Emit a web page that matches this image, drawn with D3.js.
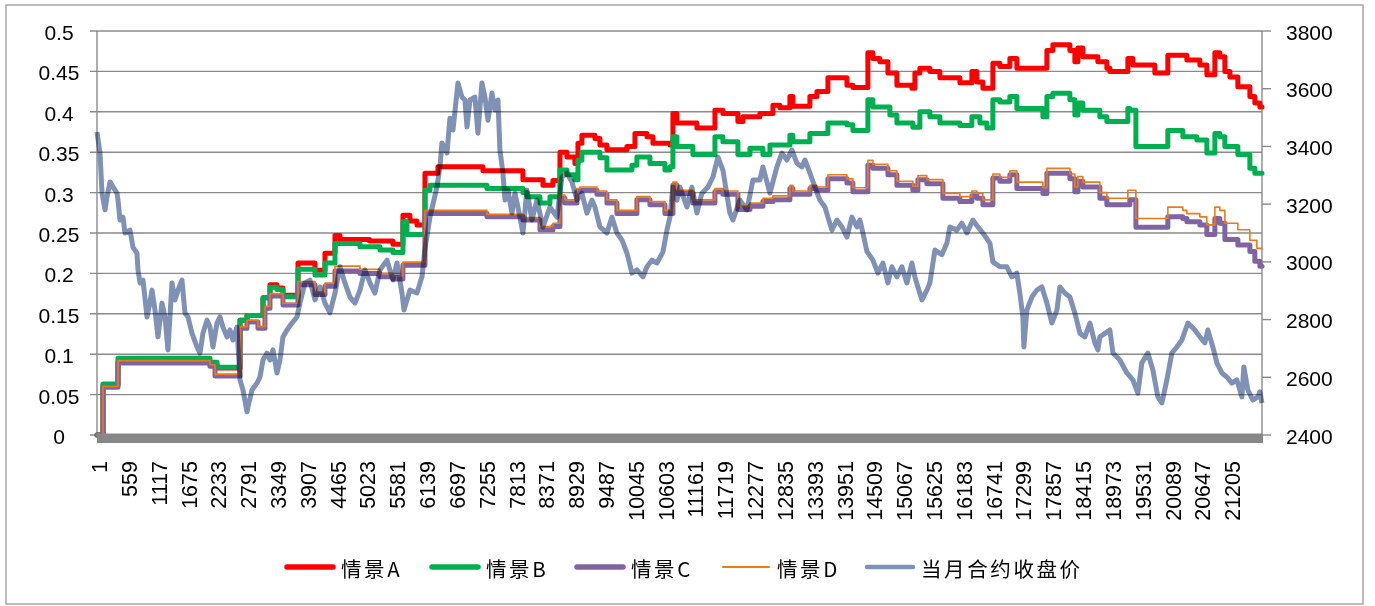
<!DOCTYPE html>
<html><head><meta charset="utf-8">
<script src="https://cdn.jsdelivr.net/npm/d3@7"></script>
<style>body{margin:0;background:#fff}svg{display:block}</style>
</head><body><svg id="c" width="1375" height="606"></svg>
<script>
const N = 21800;
const xTickLabels = [1,559,1117,1675,2233,2791,3349,3907,4465,5023,5581,6139,6697,7255,7813,8371,8929,9487,10045,10603,11161,11719,12277,12835,13393,13951,14509,15067,15625,16183,16741,17299,17857,18415,18973,19531,20089,20647,21205];
const leftTicks = [0,0.05,0.1,0.15,0.2,0.25,0.3,0.35,0.4,0.45,0.5];
const rightTicks = [2400,2600,2800,3000,3200,3400,3600,3800];
const seriesNames = ["情景A","情景B","情景C","情景D","当月合约收盘价"];

// step series: [index, value] (value holds from this index on)
const scenarioA = [[0,0],[112,0.062],[393,0.091],[2114,0.088],[2245,0.083],[2676,0.142],[2807,0.148],[3106,0.17],[3237,0.186],[3368,0.182],[3480,0.173],[3761,0.213],[4079,0.204],[4266,0.225],[4453,0.247],[4547,0.242],[5100,0.24],[5538,0.236],
[5725,0.272],[5856,0.265],[5987,0.26],[6137,0.324],[6380,0.332],[7222,0.327],[7970,0.316],[8345,0.309],[8532,0.315],[8663,0.35],[8794,0.344],[8943,0.336],[9000,0.361],[9074,0.371],[9318,0.367],[9411,0.359],[9542,0.353],[9916,0.357],[10066,0.373],[10291,0.369],[10403,0.361],[10721,0.359],[10777,0.398],[10852,0.386],[11226,0.38],[11563,0.402],[11712,0.398],[11993,0.388],[12087,0.394],[12405,0.398],[12648,0.408],[12779,0.405],[12966,0.419],[13022,0.407],[13340,0.419],[13471,0.425],[13677,0.442],[14033,0.433],[14145,0.43],[14425,0.473],[14519,0.466],[14650,0.462],[14800,0.448],[14968,0.433],[15249,0.429],[15305,0.448],[15398,0.454],[15585,0.45],[15773,0.442],[16147,0.436],[16371,0.45],[16465,0.437],[16577,0.429],[16764,0.46],[16895,0.456],[17082,0.466],[17213,0.454],[17775,0.476],[17887,0.483],[18205,0.476],[18298,0.462],[18355,0.479],[18448,0.468],[18729,0.462],[18897,0.454],[18953,0.45],[19290,0.466],[19384,0.458],[19795,0.448],[20038,0.47],[20394,0.464],[20637,0.458],[20768,0.446],[20918,0.473],[21011,0.468],[21105,0.45],[21199,0.443],[21348,0.431],[21573,0.419],[21666,0.411],[21760,0.406]];

const scenarioB = [[0,0],[112,0.063],[393,0.095],[2114,0.09],[2245,0.084],[2676,0.142],[2807,0.148],[3106,0.17],[3237,0.183],[3368,0.18],[3480,0.171],[3761,0.205],[4079,0.198],[4266,0.213],[4453,0.237],[4921,0.233],[5295,0.229],[5538,0.226],[5725,0.264],[5800,0.248],[6137,0.303],[6230,0.309],[7297,0.305],[7970,0.3],[8045,0.295],[8289,0.287],[8476,0.295],[8663,0.328],[8794,0.322],[8943,0.316],[9000,0.34],[9074,0.35],[9411,0.343],[9542,0.328],[10010,0.334],[10103,0.344],[10347,0.336],[10627,0.328],[10721,0.332],[10777,0.369],[10852,0.357],[11151,0.347],[11563,0.369],[11712,0.363],[11993,0.347],[12218,0.355],[12461,0.347],[12592,0.359],[12966,0.371],[13022,0.363],[13340,0.373],[13677,0.386],[14033,0.384],[14145,0.377],[14425,0.415],[14519,0.406],[14837,0.396],[14968,0.386],[15267,0.381],[15398,0.4],[15585,0.394],[15773,0.386],[16147,0.383],[16371,0.394],[16521,0.386],[16652,0.38],[16764,0.415],[16895,0.412],[17082,0.419],[17213,0.404],[17700,0.394],[17775,0.419],[17887,0.423],[18205,0.415],[18298,0.396],[18355,0.411],[18448,0.402],[18766,0.394],[18897,0.388],[19290,0.404],[19327,0.402],[19440,0.357],[20038,0.377],[20319,0.369],[20581,0.365],[20768,0.349],[20918,0.373],[21011,0.369],[21105,0.357],[21348,0.347],[21573,0.33],[21666,0.324]];

const scenarioC = [[0,0],[112,0.059],[393,0.089],[2114,0.085],[2208,0.073],[2676,0.132],[2807,0.14],[3012,0.132],[3143,0.157],[3237,0.172],[3480,0.161],[3761,0.186],[4079,0.174],[4266,0.184],[4453,0.203],[4921,0.2],[5295,0.196],[5538,0.193],[5725,0.21],[6137,0.274],[7297,0.27],[7970,0.266],[8289,0.254],[8532,0.258],[8663,0.293],[8756,0.287],[8981,0.301],[9037,0.303],[9355,0.298],[9542,0.287],[9729,0.274],[10103,0.291],[10347,0.285],[10627,0.274],[10777,0.309],[10852,0.299],[11151,0.287],[11563,0.301],[11712,0.298],[11993,0.279],[12218,0.283],[12461,0.289],[12648,0.291],[12966,0.305],[13022,0.298],[13340,0.305],[13471,0.303],[13677,0.317],[14033,0.312],[14145,0.301],[14425,0.334],[14519,0.33],[14800,0.322],[14968,0.309],[15267,0.303],[15361,0.316],[15529,0.311],[15829,0.293],[16147,0.289],[16371,0.296],[16465,0.293],[16577,0.285],[16764,0.318],[16895,0.314],[17082,0.322],[17213,0.305],[17700,0.299],[17775,0.324],[18205,0.317],[18298,0.301],[18355,0.314],[18448,0.307],[18766,0.293],[18897,0.285],[19327,0.291],[19440,0.257],[20038,0.27],[20319,0.268],[20394,0.264],[20637,0.26],[20768,0.248],[20918,0.268],[21011,0.262],[21105,0.242],[21348,0.235],[21573,0.227],[21666,0.215],[21760,0.209]];

const scenarioD = [[0,0],[112,0.06],[393,0.092],[2114,0.087],[2208,0.075],[2676,0.134],[2807,0.142],[3012,0.134],[3143,0.159],[3237,0.175],[3480,0.163],[3761,0.19],[4079,0.177],[4266,0.188],[4453,0.209],[4921,0.205],[5295,0.2],[5538,0.197],[5725,0.214],[6137,0.278],[7297,0.273],[7970,0.269],[8289,0.258],[8532,0.262],[8663,0.297],[8756,0.291],[8981,0.305],[9037,0.307],[9355,0.302],[9542,0.291],[9729,0.278],[10103,0.295],[10347,0.289],[10627,0.278],[10777,0.313],[10852,0.303],[11151,0.291],[11563,0.305],[11712,0.302],[11993,0.283],[12218,0.287],[12461,0.293],[12648,0.296],[12966,0.309],[13022,0.302],[13340,0.309],[13471,0.307],[13677,0.322],[14033,0.317],[14145,0.306],[14425,0.34],[14519,0.335],[14800,0.327],[14968,0.314],[15267,0.308],[15361,0.321],[15529,0.316],[15829,0.299],[16147,0.295],[16371,0.302],[16465,0.299],[16577,0.291],[16764,0.323],[16895,0.319],[17082,0.327],[17213,0.313],[17700,0.306],[17775,0.33],[18205,0.323],[18298,0.307],[18355,0.32],[18448,0.313],[18766,0.3],[18897,0.293],[19290,0.303],[19440,0.268],[20038,0.282],[20319,0.278],[20394,0.274],[20637,0.27],[20768,0.26],[20918,0.282],[21011,0.278],[21105,0.262],[21348,0.254],[21573,0.241],[21704,0.231]];

// price (right axis): [index, price]
const price = [[0,3450],[56,3377],[94,3238],[150,3180],[187,3225],[243,3277],[299,3260],[374,3238],[393,3214],[430,3145],[486,3155],[524,3100],[617,3110],[674,3050],[748,3030],[767,2972],[805,2927],[861,2937],[936,2809],[992,2860],[1029,2902],[1085,2833],[1141,2740],[1216,2857],[1272,2809],[1328,2695],[1403,2927],[1459,2868],[1516,2902],[1590,2937],[1646,2823],[1703,2809],[1777,2753],[1871,2705],[1927,2684],[1983,2753],[2058,2798],[2114,2774],[2170,2705],[2245,2788],[2301,2809],[2357,2774],[2432,2740],[2488,2764],[2545,2729],[2619,2774],[2676,2591],[2732,2556],[2807,2480],[2825,2497],[2900,2556],[2994,2580],[3050,2601],[3106,2660],[3181,2684],[3237,2660],[3293,2695],[3368,2615],[3424,2660],[3480,2740],[3555,2764],[3648,2788],[3742,2809],[3798,2857],[3892,2927],[3985,2937],[4079,2868],[4172,2913],[4266,2857],[4359,2823],[4453,2892],[4547,2983],[4640,2927],[4734,2878],[4827,2857],[4921,2902],[5014,2972],[5108,2927],[5201,2892],[5295,2972],[5426,3006],[5538,2937],[5613,2996],[5707,2892],[5744,2833],[5856,2902],[5987,2892],[6081,2948],[6137,3045],[6230,3155],[6361,3259],[6417,3329],[6455,3412],[6549,3377],[6605,3498],[6661,3457],[6754,3620],[6829,3571],[6885,3561],[6923,3467],[6979,3561],[7072,3571],[7128,3446],[7203,3620],[7259,3571],[7316,3491],[7390,3585],[7446,3526],[7503,3561],[7540,3388],[7596,3308],[7634,3214],[7690,3249],[7765,3169],[7821,3238],[7877,3190],[7970,3100],[8045,3249],[8139,3145],[8232,3214],[8345,3121],[8476,3190],[8607,3155],[8700,3294],[8794,3308],[8887,3277],[8981,3214],[9074,3238],[9168,3169],[9261,3214],[9318,3190],[9411,3121],[9542,3100],[9636,3155],[9729,3100],[9822,3076],[9916,3030],[9935,3017],[10010,2961],[10103,2972],[10216,2948],[10291,2983],[10384,3006],[10478,2996],[10590,3034],[10665,3110],[10721,3155],[10777,3259],[10852,3214],[10908,3259],[11039,3190],[11132,3259],[11226,3169],[11319,3238],[11432,3259],[11525,3294],[11619,3363],[11712,3318],[11843,3169],[11900,3145],[12031,3214],[12162,3180],[12274,3284],[12405,3284],[12461,3329],[12592,3238],[12723,3329],[12816,3377],[12910,3353],[13003,3388],[13097,3342],[13191,3329],[13247,3353],[13340,3308],[13434,3259],[13527,3214],[13621,3190],[13677,3155],[13752,3110],[13845,3145],[13939,3121],[14033,3086],[14126,3155],[14220,3121],[14276,3145],[14332,3100],[14407,3036],[14519,3006],[14612,2961],[14706,2996],[14800,2927],[14874,2983],[14968,2948],[15062,2983],[15155,2927],[15249,2996],[15305,2948],[15361,2913],[15436,2868],[15529,2902],[15585,2927],[15623,2972],[15679,3041],[15810,3025],[15904,3065],[15960,3121],[16091,3110],[16184,3134],[16278,3100],[16390,3145],[16484,3121],[16577,3100],[16708,3065],[16764,3000],[16895,2983],[17026,2983],[17120,2948],[17213,2961],[17269,2892],[17325,2809],[17344,2705],[17400,2833],[17494,2878],[17587,2902],[17681,2913],[17775,2857],[17868,2788],[17962,2833],[18017,2913],[18111,2892],[18205,2878],[18298,2823],[18392,2753],[18486,2740],[18579,2788],[18673,2719],[18729,2695],[18766,2740],[18953,2764],[19010,2684],[19140,2660],[19271,2615],[19384,2591],[19477,2545],[19552,2650],[19664,2684],[19758,2625],[19851,2532],[19926,2511],[20020,2591],[20113,2684],[20207,2705],[20300,2729],[20413,2788],[20544,2764],[20637,2740],[20731,2719],[20787,2764],[20880,2705],[20955,2650],[21049,2615],[21142,2601],[21236,2580],[21329,2591],[21423,2532],[21460,2636],[21535,2556],[21629,2521],[21722,2532],[21760,2550],[21798,2511]];

const svg = d3.select("#c");
const L = 97, R = 1262, T = 31, B = 435;
const x = d3.scaleLinear().domain([0, N]).range([L, R]);
const yL = d3.scaleLinear().domain([0, 0.5]).range([B, T]);
const yR = d3.scaleLinear().domain([2400, 3800]).range([B, T]);

// outer border
svg.append("rect").attr("x",6).attr("y",5).attr("width",1357).attr("height",599)
  .attr("fill","#fff").attr("stroke","#a6a6a6").attr("stroke-width",1.5);

// gridlines + left ticks
svg.append("g").selectAll("line").data(leftTicks).join("line")
  .attr("x1", L-7).attr("x2", R).attr("y1", d=>yL(d)).attr("y2", d=>yL(d))
  .attr("stroke","#8a8a8a").attr("stroke-width",1.4);
svg.append("line").attr("x1",L).attr("x2",L).attr("y1",T).attr("y2",B).attr("stroke","#8a8a8a").attr("stroke-width",1.4);
svg.append("line").attr("x1",R).attr("x2",R).attr("y1",T).attr("y2",B).attr("stroke","#8a8a8a").attr("stroke-width",1.4);
svg.append("g").selectAll("line").data(rightTicks).join("line")
  .attr("x1", R).attr("x2", R+9).attr("y1", d=>yR(d)).attr("y2", d=>yR(d))
  .attr("stroke","#8a8a8a").attr("stroke-width",1.4);

const font = "'Liberation Sans', Arial, sans-serif";
svg.append("g").selectAll("text").data(leftTicks).join("text")
  .attr("x", 59).attr("y", d=>yL(d)+1.5).attr("text-anchor","middle").attr("dominant-baseline","central")
  .style("font-family",font).style("font-size","21px").attr("fill","#000").text(d=>d3.format("")(d));
svg.append("g").selectAll("text").data(rightTicks).join("text")
  .attr("x", 1286).attr("y", d=>yR(d)+1).attr("dominant-baseline","central")
  .style("font-family",font).style("font-size","21px").attr("fill","#000").text(d=>d);
svg.append("g").selectAll("text").data(xTickLabels).join("text")
  .attr("transform", d=>`translate(${x(d)+3},461) rotate(-90)`)
  .attr("text-anchor","end").attr("dominant-baseline","central")
  .style("font-family",font).style("font-size","21.5px").attr("fill","#000").text(d=>d);

// series
const colors = ["#ff0000","#00b050","#8064a2","#ee7a16","#8091b6"];
const widths = [5,5,5,1.6,5];
const stepLine = d3.line().x(d=>x(d[0])).y(d=>yL(d[1])).curve(d3.curveStepAfter);
const ext = s => s.concat([[N, s[s.length-1][1]]]);
const scen = [scenarioA, scenarioB, scenarioC, scenarioD];
const g = svg.append("g");
scen.forEach((s,i)=>{
  g.append("path").attr("d", stepLine(ext(s))).attr("fill","none")
   .attr("stroke",colors[i]).attr("stroke-width",widths[i])
   .attr("stroke-linejoin","round").attr("stroke-linecap","round");
});
const priceLine = d3.line().x(d=>x(d[0])).y(d=>yR(d[1]));
g.append("path").attr("d", priceLine(price)).attr("fill","none")
  .attr("stroke",colors[4]).attr("stroke-width",widths[4]).attr("stroke-linejoin","round")
  .style("mix-blend-mode","multiply");

// thick x-axis bar
svg.append("rect").attr("x", L).attr("y", B-1.5).attr("width", R-L+1).attr("height", 9.5).attr("fill","#878787");

// legend
const legX = [285, 430, 575, 721, 865];
const leg = svg.append("g").selectAll("g").data(seriesNames).join("g")
  .attr("transform",(d,i)=>`translate(${legX[i]},567)`);
leg.append("line").attr("x1",2).attr("x2",48).attr("y1",0).attr("y2",0)
  .attr("stroke",(d,i)=>colors[i]).attr("stroke-width",(d,i)=>i===3?2:(i===4?4.5:5.5)).attr("stroke-linecap","round");
leg.append("text").attr("x",56).attr("y",1).attr("dominant-baseline","central")
  .style("font-family","'Noto Sans CJK SC', sans-serif").style("font-size","20.5px").style("letter-spacing","2.6px")
  .attr("fill","#000").text(d=>d);
</script></body></html>
